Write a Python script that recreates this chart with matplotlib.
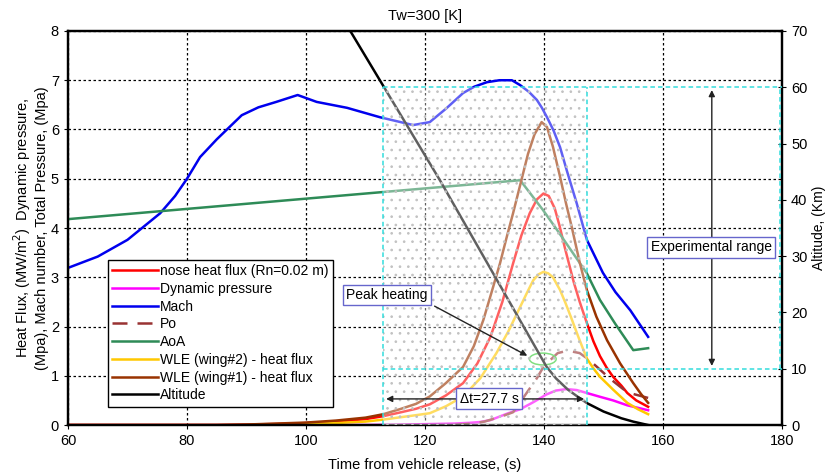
import matplotlib.pyplot as plt
from matplotlib.patches import Rectangle, Ellipse

plt.rcParams['font.family'] = ['Liberation Sans', 'DejaVu Sans']
plt.rcParams['hatch.linewidth'] = 0.7

# ---- data ----
mach_t = [60, 65, 70, 75.5, 78, 80, 82.2, 85, 89.2, 92, 95, 98.6, 101.8, 106.9, 112.4, 118, 120.8,
          123.5, 126.4, 128.3, 130.4, 132.5, 134.6, 136, 137.5, 138.8, 139.6, 140.5, 141.6, 142.7,
          143.8, 145.5, 147.2, 149.9, 152, 154.5, 157.5]
mach = [3.19, 3.42, 3.76, 4.3, 4.65, 5.0, 5.44, 5.8, 6.29, 6.45, 6.56, 6.7, 6.56, 6.44, 6.25, 6.09, 6.15,
        6.42, 6.74, 6.87, 6.96, 7.0, 7.0, 6.9, 6.76, 6.6, 6.45, 6.25, 5.98, 5.64,
        5.18, 4.5, 3.76, 3.09, 2.7, 2.33, 1.79]

aoa_t = [60, 136, 139.8, 142.2, 147.2, 149.4, 152, 155, 157.5]
aoa = [4.18, 4.97, 4.37, 3.96, 3.08, 2.54, 2.05, 1.52, 1.56]

nose_t = [60, 85, 90, 95, 100, 105, 110, 113, 116, 118.5, 120.8, 123.5, 126.4, 128.8, 131, 133, 134.8,
          136.2, 137.6, 138.8, 139.9, 140.8, 141.8, 142.6, 143.5, 145, 146, 147.2, 148.3, 149.4, 150.5,
          151.6, 153, 154, 155.5, 157.5]
nose = [0, 0, 0.01, 0.02, 0.04, 0.07, 0.12, 0.18, 0.26, 0.33, 0.42, 0.6, 0.85, 1.25, 1.79, 2.5, 3.28,
        3.85, 4.3, 4.58, 4.7, 4.65, 4.4, 4.05, 3.6, 2.9, 2.5, 2.07, 1.7, 1.4, 1.17,
        0.98, 0.8, 0.65, 0.5, 0.37]

wing1_t = [60, 85, 90, 95, 100, 105, 110, 113, 116, 118.5, 120.8, 123.5, 126.4, 128.2, 129.8, 131.2,
           132.6, 133.7, 134.8, 136.2, 137.3, 138.4, 139.6, 140.5, 141.5, 142.7, 143.7, 144.7, 146,
           147.2, 148.8, 150.6, 152.8, 155, 156.3, 157.5]
wing1 = [0, 0, 0.01, 0.03, 0.05, 0.09, 0.15, 0.22, 0.33, 0.43, 0.58, 0.85, 1.18, 1.6, 2.13, 2.7,
         3.28, 3.8, 4.3, 4.97, 5.5, 5.9, 6.15, 6.05, 5.65, 5.04, 4.5, 4.0, 3.3,
         2.74, 2.2, 1.72, 1.25, 0.85, 0.63, 0.45]

wing2_t = [60, 90, 95, 100, 105, 110, 113, 116, 118.5, 120.8, 123.5, 126.4, 129.3, 132, 134, 136,
           137.2, 138.2, 139.1, 139.9, 140.7, 141.5, 142.7, 143.6, 144.5, 145.8, 147.2, 148.3, 149.4,
           151.6, 154, 155.8, 157.5]
wing2 = [0, 0, 0.01, 0.02, 0.04, 0.07, 0.11, 0.16, 0.2, 0.24, 0.38, 0.58, 0.95, 1.46, 1.9, 2.4,
         2.7, 2.94, 3.06, 3.11, 3.08, 3.0, 2.74, 2.48, 2.2, 1.78, 1.35, 1.15, 0.98,
         0.72, 0.45, 0.32, 0.22]

dyn_t = [60, 110, 115, 121, 125, 127.5, 129.2, 131, 132.5, 134, 136, 138, 139.3, 140.4, 142, 143.8,
         145.5, 147.2, 149.5, 151.6, 154, 157.5]
dyn = [0, 0, 0.005, 0.02, 0.03, 0.045, 0.06, 0.1, 0.17, 0.24, 0.32, 0.45, 0.54, 0.62, 0.7, 0.73,
       0.71, 0.65, 0.57, 0.5, 0.4, 0.3]

po_t = [125, 128, 130, 133, 134.8, 136.5, 138.8, 140, 142.3, 143.3, 144.4, 146, 147.5, 148.9, 150,
        151, 153.3, 155, 157.5]
po = [0, 0.03, 0.07, 0.18, 0.26, 0.55, 0.95, 1.2, 1.46, 1.49, 1.5, 1.46, 1.33, 1.18, 1.06,
      0.95, 0.73, 0.63, 0.55]

alt_t = [105, 122.5, 140.4, 142, 144, 145.7, 147.2, 150, 153, 155, 157.5]
alt = [74.3, 43.5, 10.4, 8.3, 6.3, 5.0, 3.9, 2.4, 1.2, 0.6, 0]

# experimental window
exp_t0, exp_t1 = 113, 147.2
exp_lo, exp_hi = 10, 60
peak_t, peak_v = 139.8, 1.34

fig = plt.figure(figsize=(8.25, 4.76), dpi=100)
ax = fig.add_axes([0.0824, 0.1071, 0.8655, 0.8278])
ax2 = ax.twinx()

lw = 1.8
ax.plot(nose_t, nose, color='#ff0000', lw=lw, label='nose heat flux (Rn=0.02 m)')
ax.plot(dyn_t, dyn, color='#ff00ff', lw=lw, label='Dynamic pressure')
ax.plot(mach_t, mach, color='#0000ee', lw=lw, label='Mach')
ax.plot(po_t, po, color='#993333', lw=lw, dashes=(6, 4), label='Po')
ax.plot(aoa_t, aoa, color='#2e8b57', lw=lw, label='AoA')
ax.plot(wing2_t, wing2, color='#ffc800', lw=lw, label='WLE (wing#2) - heat flux')
ax.plot(wing1_t, wing1, color='#993300', lw=lw, label='WLE (wing#1) - heat flux')
ax2.plot(alt_t, alt, color='black', lw=lw, label='Altitude')

ax.set_xlim(60, 180)
ax.set_ylim(0, 8)
ax2.set_ylim(0, 70)
ax.set_xticks(range(60, 181, 20))
ax.set_yticks(range(0, 9))
ax2.set_yticks(range(0, 71, 10))
ax.grid(True, color='black', linestyle=(0, (2, 2)), lw=0.9)
ax.set_axisbelow(True)

for a in (ax, ax2):
    for s in a.spines.values():
        s.set_linewidth(1.6)
ax.tick_params(labelsize=10.5, direction='out', length=3)
ax2.tick_params(labelsize=10.5, direction='inout', length=6)

ax.set_xlabel('Time from vehicle release, (s)', fontsize=10.5, labelpad=7)
ax.set_ylabel('Heat Flux, (MW/m$^2$)  Dynamic pressure,\n(Mpa), Mach number, Total Pressure, (Mpa)',
              fontsize=10.5, labelpad=1)
ax2.set_ylabel('Altitude, (Km)', fontsize=10, labelpad=3)
ax.set_title('Tw=300 [K]', fontsize=10.5, pad=8)

# faded, stippled experimental window
ax2.add_patch(Rectangle((exp_t0, 0), exp_t1 - exp_t0, exp_hi, facecolor='white', alpha=0.38,
                        lw=0, zorder=5))
ax2.add_patch(Rectangle((exp_t0, 0), exp_t1 - exp_t0, exp_hi, fill=False, hatch='..',
                        edgecolor='#c2c2c2', lw=0, zorder=5))
cyan = dict(color='#33dddd', lw=1.1, linestyle=(0, (3, 2)), zorder=6)
ax2.plot([exp_t0, exp_t0], [0, exp_hi], **cyan)
ax2.plot([exp_t1, exp_t1], [0, exp_hi], **cyan)
ax2.plot([exp_t0, 180], [exp_hi, exp_hi], **cyan)
ax2.plot([exp_t0, 180], [exp_lo, exp_lo], **cyan)
ax2.plot([179.6, 179.6], [exp_lo, exp_hi], **cyan)

box = dict(boxstyle='square,pad=0.25', facecolor='white', edgecolor='#6666cc', lw=1)

# peak heating
ax.add_patch(Ellipse((peak_t, peak_v), 4.5, 0.24, fill=False, edgecolor='#33cc33', lw=1.1, zorder=20))
ax2.annotate('', xy=(137.6, 1.38 * 70 / 8), xytext=(121.2, 2.44 * 70 / 8),
             arrowprops=dict(arrowstyle='-|>', color='#222222', lw=1, mutation_scale=9), zorder=20)
ax2.text(113.6, 2.64 * 70 / 8, 'Peak heating', fontsize=10, ha='center', va='center', bbox=box, zorder=21)

# delta t
ax2.annotate('', xy=(exp_t0, 0.53 * 70 / 8), xytext=(exp_t1, 0.53 * 70 / 8),
             arrowprops=dict(arrowstyle='<|-|>', color='#222222', lw=1, mutation_scale=9), zorder=20)
ax2.text(130.8, 0.53 * 70 / 8, '\u0394t=27.7 s', fontsize=10, ha='center', va='center', bbox=box, zorder=21)

# experimental range
ax2.annotate('', xy=(168.2, exp_hi), xytext=(168.2, exp_lo),
             arrowprops=dict(arrowstyle='<|-|>', color='#222222', lw=1, mutation_scale=9), zorder=20)
ax2.text(168.1, 31.6, 'Experimental range', fontsize=10, ha='center', va='center', bbox=box, zorder=21)

h1, l1 = ax.get_legend_handles_labels()
h2, l2 = ax2.get_legend_handles_labels()
leg = ax2.legend(h1 + h2, l1 + l2, loc='upper left', bbox_to_anchor=(0.056, 0.419), borderaxespad=0,
                 fontsize=10, frameon=True, fancybox=False, edgecolor='black', framealpha=1,
                 handlelength=3.3, handletextpad=0.15, labelspacing=0.27, borderpad=0.3)
leg.get_frame().set_linewidth(1)
leg.set_zorder(30)

fig.savefig('out.png', dpi=100)
